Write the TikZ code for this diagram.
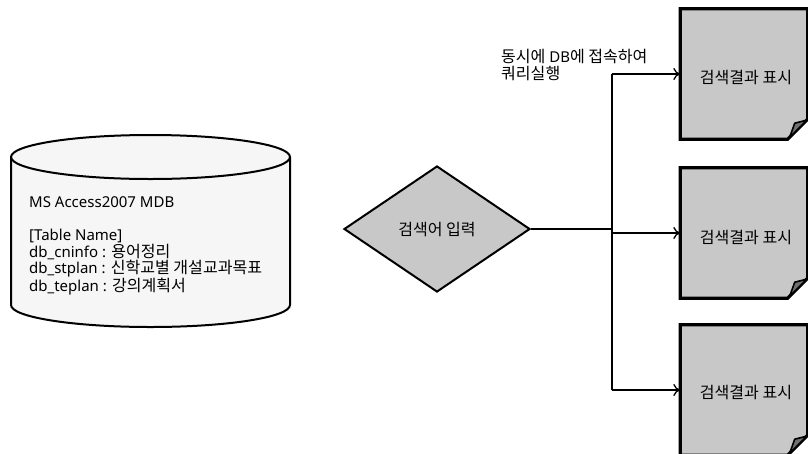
\documentclass[tikz,border=0pt]{standalone}
\usepackage{fontspec}
\setmainfont{Noto Sans}
\newfontfamily\kr{Noto Sans CJK KR}[Scale=1.07]
\usetikzlibrary{arrows.meta,shapes.geometric,calc}
\definecolor{boxgray}{HTML}{C8C8C8}
\definecolor{foldgray}{HTML}{707070}
\definecolor{cylfill}{HTML}{F6F6F6}
\tikzset{
  txt/.style={font=\fontsize{15}{16.8}\selectfont},
  docnode/.style={minimum width=127pt, minimum height=130pt, inner sep=0pt, txt},
  docborder/.style={draw=black, line width=3.2pt, fill=boxgray, line join=miter},
  foldstyle/.style={draw=black, line width=1.6pt, fill=foldgray, line join=round},
  conn/.style={draw=black, line width=1.3pt},
  arr/.style={conn, -{To[length=7pt,width=12pt,line width=1.3pt]}},
}
\newcommand\mydoc[1]{%
  \path[docborder] (#1.north west) -- (#1.north east) -- ($(#1.south east)+(0,-20)$) -- ($(#1.south east)+(-20,0)$) -- (#1.south west) -- cycle;
  \path[foldstyle] ($(#1.south east)+(-18,-2)$) -- ($(#1.south east)+(-13,-16)$) -- ($(#1.south east)+(-1,-19)$) -- cycle;
}
\begin{document}
\begin{tikzpicture}[x=1pt,y=-1pt]
\useasboundingbox (0,0) rectangle (808,453);
% cylinder
\draw[line width=2pt, fill=cylfill] (11,157) -- (11,305) arc[start angle=180, end angle=0, x radius=139.5, y radius=22] -- (290,157) arc[start angle=360, end angle=180, x radius=139.5, y radius=22] -- cycle;
\draw[line width=2pt] (11,157) arc[start angle=180, end angle=0, x radius=139.5, y radius=22];
\node[txt, anchor=west, align=left, inner sep=0pt] (db) at (29,246) {MS Access2007 MDB\\[16pt][Table Name]\\db\_cninfo : {\kr 용어정리}\\db\_stplan : {\kr 신학교별 개설교과목표}\\db\_teplan : {\kr 강의계획서}};
% diamond
\node[diamond, draw=black, line width=2pt, fill=boxgray, minimum width=186pt, minimum height=126pt, inner sep=0pt, txt] (dec) at (437,229) {\kr 검색어 입력};
% documents
\node[docnode] (d1) at (744,74) {};
\node[docnode] (d2) at (744,233) {};
\node[docnode] (d3) at (744,390) {};
\mydoc{d1}\mydoc{d2}\mydoc{d3}
\node[txt] (t1) at (746,77) {\kr 검색결과 표시};
\node[txt] (t2) at (746,237) {\kr 검색결과 표시};
\node[txt] (t3) at (746,392) {\kr 검색결과 표시};
% connectors
\coordinate (j) at (612,229);
\coordinate (jt) at (612,74);
\coordinate (jb) at (612,390);
\draw[conn] (dec.east) -- (j);
\draw[conn] (jt) -- (jb);
\draw[arr] (jt) -- (d1.west);
\draw[arr] (612,233) -- (d2.west);
\draw[arr] (jb) -- (d3.west);
\node[txt, anchor=west, align=left, inner sep=0pt] (lbl) at (501,65) {{\kr 동시에} DB{\kr 에 접속하여}\\{\kr 쿼리실행}};
\end{tikzpicture}
\end{document}
